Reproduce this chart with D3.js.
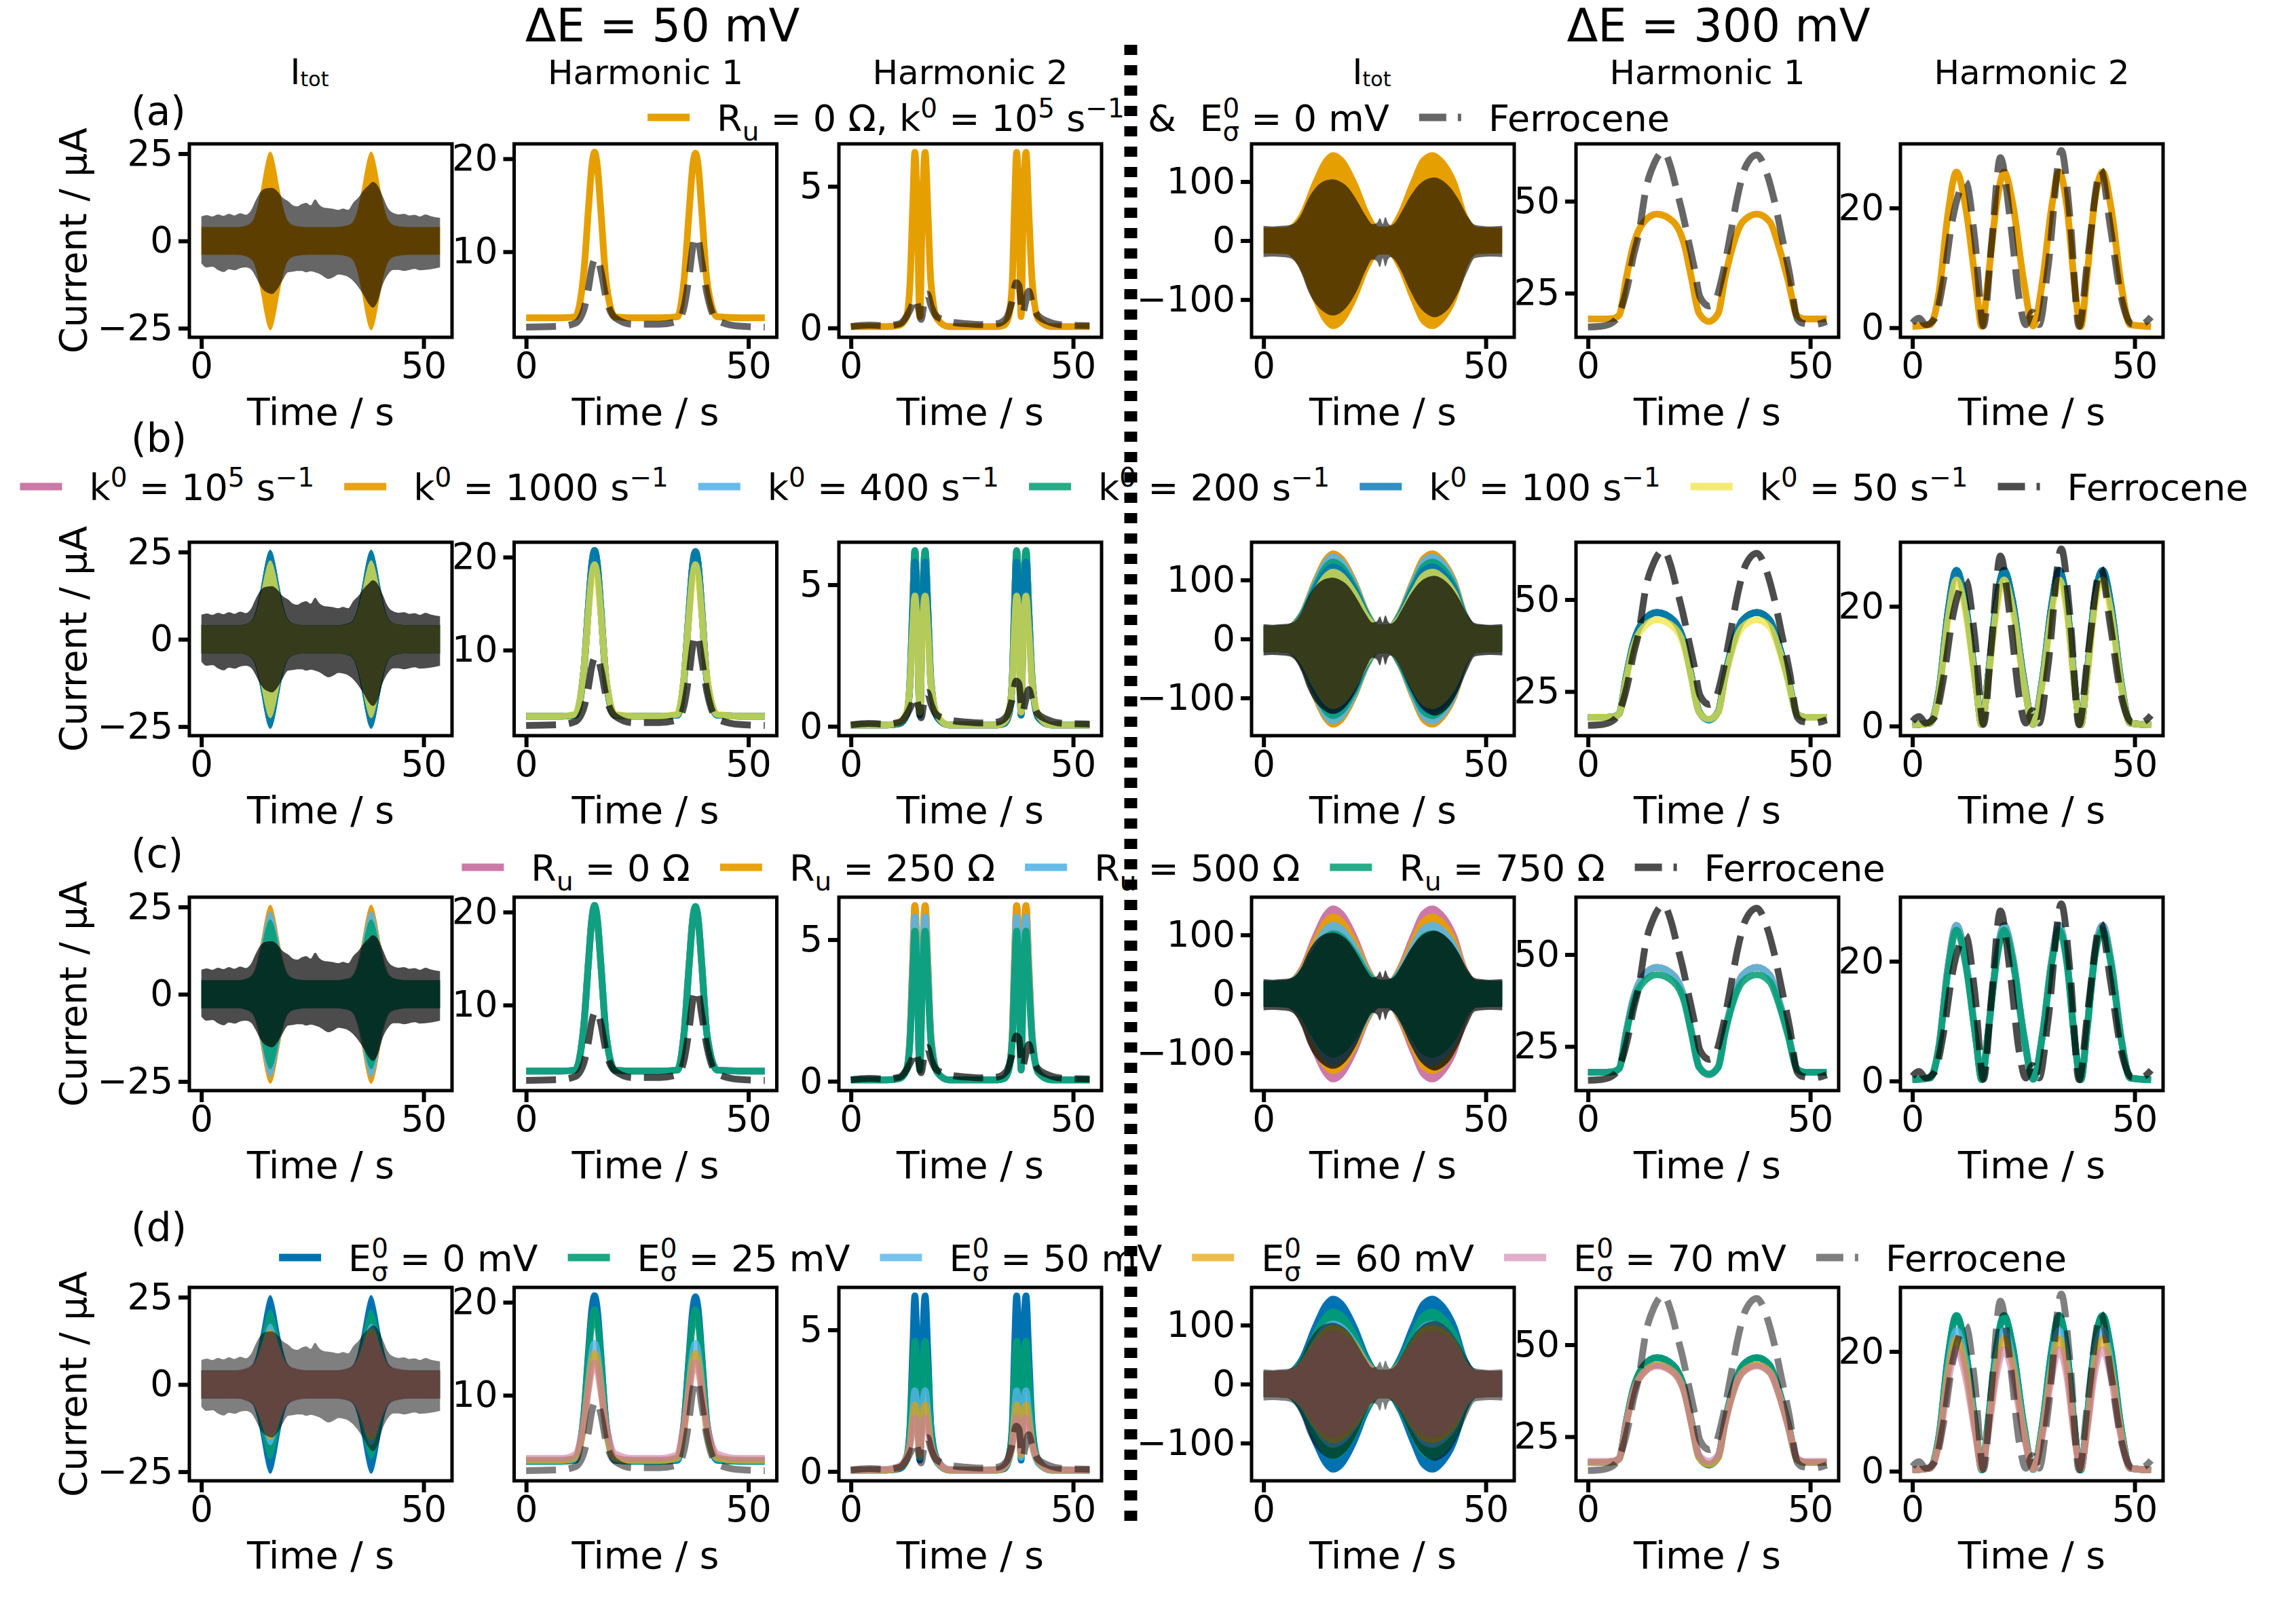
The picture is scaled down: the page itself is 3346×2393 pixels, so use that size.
<!DOCTYPE html>
<html>
<head>
<meta charset="utf-8">
<script src="https://cdn.jsdelivr.net/npm/d3@7"></script>
<style>
  body { margin: 0; background: #fff; }
  text { font-family: 'DejaVu Sans', sans-serif; fill: #000; white-space: pre; }
</style>
</head>
<body>
<svg id="figure" width="3346" height="2393"></svg>
<script>
// ---------- time grids (s) ----------
const time50Itot = [0, 8, 10, 11.5, 12.5, 13.5, 14.3, 14.9, 15.5, 16.1, 16.7, 17.5, 18.5, 19.5, 21, 24, 30, 33, 34.2, 35.2, 36.2, 37, 37.6, 38.2, 38.8, 39.4, 40.2, 41.2, 42.2, 43.7, 47, 53.7]
const time50FcItot = [0, 1.2, 2.5, 3.7, 5, 6.2, 7.5, 8.7, 10, 11.2, 12.2, 13.3, 14.5, 15.9, 17.1, 18.3, 19.5, 20.6, 21.6, 22.6, 23.6, 24.6, 25.6, 26.5, 27.5, 28.6, 29.7, 30.8, 31.9, 33, 34.2, 35.3, 36.5, 37.6, 38.6, 39.7, 40.8, 42, 43.2, 44.4, 45.6, 46.8, 48, 49.2, 50.4, 51.6, 53.7]
const time50H1 = [0, 8, 11, 13, 14, 14.8, 15.4, 16, 16.8, 18, 20, 24, 30, 34, 35.5, 36.7, 37.5, 38.1, 38.7, 39.5, 40.7, 43, 48, 53.7]
const time50H2 = [0, 8, 11, 12.5, 13.3, 13.9, 14.4, 14.9, 15.5, 16.1, 16.7, 17.3, 18, 19.5, 22, 28, 33, 34.5, 35.5, 36.3, 36.8, 37.3, 37.8, 38.3, 38.8, 39.4, 40, 40.8, 42.2, 45, 53.7]
const time50FcH2 = [0, 4, 8, 11, 12.5, 13.5, 14.5, 15.2, 15.8, 16.5, 17.2, 18, 19, 20.5, 23, 26, 30, 33, 35, 36.2, 37.2, 37.8, 38.6, 39.3, 40, 40.8, 42, 44, 48, 53.7]
const time300Itot = [0, 5, 8, 11, 13.5, 15.6, 18, 21, 24, 26, 28, 30, 33, 35.5, 38, 40.5, 43.5, 46, 48, 53.7]
const time300FcItot = [0, 2, 4, 5.5, 7, 8.5, 10, 12, 14, 15.6, 17, 19, 21, 23, 24.5, 25.5, 26.2, 26.8, 27.4, 28, 28.6, 29.5, 31, 33, 35, 37, 38.5, 40, 42, 44, 46, 47.5, 49, 51, 53.7]
const time300H1 = [0, 3, 5.5, 7, 8.6, 10.2, 12.6, 15.5, 19.2, 21.7, 23.3, 25, 27.2, 29.3, 30.8, 32.4, 34.8, 38, 40.9, 43.1, 45, 47.1, 48.8, 51, 53.7]
const time300FcH1 = [0, 3, 5.5, 6.7, 8.9, 10.2, 11.4, 13.1, 14.8, 17, 18.7, 20, 21.3, 22.6, 23.9, 25.2, 27.3, 28.6, 30.3, 32, 33.7, 35.5, 38, 40.2, 41.9, 43.6, 45.4, 47.1, 48.4, 51, 53.7]
const time300H2 = [0, 4, 6, 8, 9.9, 12, 14.3, 15.6, 17, 19, 20.6, 22.5, 25, 27.2, 29.3, 31.3, 33, 34.8, 36.5, 37.9, 39.2, 41, 42.8, 44.7, 47, 49, 53.7]
const time300FcH2 = [0, 1.5, 3, 5, 7, 9, 12, 14, 16, 17.8, 19.8, 22, 24, 25.5, 27, 28.5, 30.5, 33.5, 35.5, 37.5, 39.5, 42.4, 44.5, 47, 49.5, 51.5, 53.7]

// ---------- ΔE = 50 mV, Itot envelope (half height, µA) ----------
const env50Peak256 = [4, 4, 4.4, 5.7, 9.2, 15.5, 21.2, 24.4, 25.6, 24.4, 21.2, 15.5, 9.2, 5.7, 4.4, 4, 4, 4.5, 5.7, 9.2, 15.5, 21.2, 24.4, 25.6, 24.4, 21.2, 15.5, 9.2, 5.7, 4.4, 4, 4]
const env50Peak238 = [4, 4, 4.4, 5.6, 8.8, 14.5, 19.8, 22.7, 23.8, 22.7, 19.8, 14.5, 8.8, 5.6, 4.4, 4, 4, 4.5, 5.6, 8.8, 14.5, 19.8, 22.7, 23.8, 22.7, 19.8, 14.5, 8.8, 5.6, 4.4, 4, 4]
const env50Peak226 = [4, 4, 4.4, 5.5, 8.5, 13.9, 18.8, 21.6, 22.6, 21.6, 18.8, 13.9, 8.5, 5.5, 4.4, 4, 4, 4.4, 5.5, 8.5, 13.9, 18.8, 21.6, 22.6, 21.6, 18.8, 13.9, 8.5, 5.5, 4.4, 4, 4]
const env50Peak215 = [4, 4, 4.4, 5.4, 8.2, 13.3, 18, 20.5, 21.5, 20.5, 18, 13.3, 8.2, 5.4, 4.4, 4, 4, 4.4, 5.4, 8.2, 13.3, 18, 20.5, 21.5, 20.5, 18, 13.3, 8.2, 5.4, 4.4, 4, 4]
const env50Peak174 = [4, 4, 4.3, 5.1, 7.2, 11.1, 14.7, 16.7, 17.4, 16.7, 14.7, 11.1, 7.2, 5.1, 4.3, 4, 4, 4.3, 5.1, 7.2, 11.1, 14.7, 16.7, 17.4, 16.7, 14.7, 11.1, 7.2, 5.1, 4.3, 4, 4]
const env50Peak159 = [4, 4, 4.4, 5.2, 7.3, 10.8, 13.8, 15.3, 15.9, 15.3, 13.8, 10.8, 7.3, 5.2, 4.4, 4, 4, 4.4, 5.2, 7.3, 10.8, 13.8, 15.3, 15.9, 15.3, 13.8, 10.8, 7.3, 5.2, 4.4, 4, 4]
const env50Peak147 = [4, 4.1, 4.7, 5.8, 7.8, 10.9, 13.3, 14.3, 14.7, 14.3, 13.3, 10.9, 7.8, 5.8, 4.7, 4.1, 4.1, 4.7, 5.8, 7.8, 10.9, 13.3, 14.3, 14.7, 14.3, 13.3, 10.9, 7.8, 5.8, 4.7, 4.1, 4]
const fc50Upper = [7.0, 7.4, 7.0, 7.6, 7.2, 7.8, 7.3, 7.9, 7.5, 8.8, 11.5, 14.0, 15.0, 15.2, 14.2, 12.4, 11.4, 10.2, 9.9, 10.6, 10.9, 10.2, 11.9, 10.4, 9.6, 9.4, 9.2, 8.9, 9.3, 8.9, 11.0, 12.4, 14.5, 15.9, 16.9, 15.8, 12.8, 9.4, 8.0, 7.6, 7.8, 7.3, 7.5, 7.0, 7.6, 7.1, 6.6]
const fc50Lower = [-6.4, -7.6, -7.4, -8.3, -8.9, -8.1, -8.4, -7.8, -7.6, -8.2, -10.2, -12.9, -14.6, -15.2, -13.8, -11.2, -9.0, -8.8, -8.6, -8.6, -9.0, -8.7, -9.0, -9.4, -10.2, -10.9, -10.4, -9.6, -9.8, -10.3, -11.5, -13.2, -15.5, -18.0, -19.1, -17.2, -12.5, -9.6, -8.3, -8.3, -8.6, -8.3, -8.0, -8.4, -8.3, -8.1, -7.6]

// ---------- ΔE = 50 mV, harmonic 1 (µA) ----------
const h1at50Peak207 = [2.9, 2.9, 3.0, 7.9, 14.5, 19.3, 20.7, 19.3, 14.5, 6.8, 3.0, 2.9, 2.9, 3.0, 6.8, 14.5, 19.3, 20.6, 19.3, 14.5, 6.8, 3.0, 2.9, 2.9]
const h1at50Peak192 = [2.9, 2.9, 3.1, 8.0, 14.0, 18.0, 19.2, 18.0, 14.0, 7.0, 3.1, 2.9, 2.9, 3.1, 7.0, 14.0, 18.0, 19.2, 18.0, 14.0, 7.0, 3.1, 2.9, 2.9]
const h1at50Peak156 = [3.0, 3.0, 3.2, 7.0, 11.4, 14.6, 15.6, 14.6, 11.4, 6.2, 3.2, 3.0, 3.0, 3.2, 6.2, 11.4, 14.6, 15.6, 14.6, 11.4, 6.2, 3.2, 3.0, 3.0]
const h1at50Peak145 = [3.0, 3.0, 3.3, 6.9, 10.9, 13.6, 14.5, 13.6, 10.9, 6.3, 3.3, 3.0, 3.0, 3.3, 6.3, 10.9, 13.6, 14.5, 13.6, 10.9, 6.3, 3.3, 3.0, 3.0]
const h1at50Peak135 = [3.2, 3.2, 3.6, 7.2, 10.5, 12.8, 13.5, 12.8, 10.5, 6.8, 3.7, 3.2, 3.2, 3.6, 6.8, 10.5, 12.8, 13.5, 12.8, 10.5, 6.8, 3.7, 3.2, 3.2]
const h1at50Fc = [1.9, 2.0, 2.3, 3.8, 6.0, 8.3, 9.2, 9.3, 8.0, 5.0, 2.9, 2.2, 2.2, 2.5, 4.0, 7.5, 10.5, 11.6, 11.3, 9.0, 5.5, 2.6, 2.0, 1.9]

// ---------- ΔE = 50 mV, harmonic 2 (µA) ----------
const h2at50Peak62 = [0.05, 0.05, 0.1, 0.4, 1.6, 4.2, 6.2, 4.3, 0.4, 4.3, 6.2, 4.2, 1.6, 0.3, 0.05, 0.05, 0.05, 0.1, 0.4, 1.6, 4.2, 6.2, 4.3, 0.4, 4.3, 6.2, 4.2, 1.6, 0.3, 0.05, 0.05]
const h2at50Peak58 = [0.05, 0.05, 0.1, 0.4, 1.5, 3.9, 5.8, 4.0, 0.4, 4.0, 5.8, 3.9, 1.5, 0.3, 0.05, 0.05, 0.05, 0.1, 0.4, 1.5, 3.9, 5.8, 4.0, 0.4, 4.0, 5.8, 3.9, 1.5, 0.3, 0.05, 0.05]
const h2at50Peak53 = [0.05, 0.05, 0.1, 0.4, 1.4, 3.6, 5.3, 3.7, 0.4, 3.7, 5.3, 3.6, 1.4, 0.3, 0.05, 0.05, 0.05, 0.1, 0.4, 1.4, 3.6, 5.3, 3.7, 0.4, 3.7, 5.3, 3.6, 1.4, 0.3, 0.05, 0.05]
const h2at50Peak46 = [0.05, 0.05, 0.15, 0.5, 1.5, 3.4, 4.6, 3.5, 0.5, 3.5, 4.6, 3.4, 1.5, 0.4, 0.05, 0.05, 0.05, 0.15, 0.5, 1.5, 3.4, 4.6, 3.5, 0.5, 3.5, 4.6, 3.4, 1.5, 0.4, 0.05, 0.05]
const h2at50Peak29 = [0.05, 0.05, 0.15, 0.4, 1.0, 2.1, 2.85, 2.2, 0.5, 2.2, 2.85, 2.1, 1.0, 0.3, 0.05, 0.05, 0.05, 0.15, 0.4, 1.0, 2.1, 2.85, 2.2, 0.5, 2.2, 2.85, 2.1, 1.0, 0.3, 0.05, 0.05]
const h2at50Peak24 = [0.05, 0.05, 0.15, 0.45, 0.95, 1.8, 2.35, 1.85, 0.6, 1.85, 2.35, 1.8, 0.95, 0.35, 0.05, 0.05, 0.05, 0.15, 0.45, 0.95, 1.8, 2.35, 1.85, 0.6, 1.85, 2.35, 1.8, 0.95, 0.35, 0.05, 0.05]
const h2at50Peak19 = [0.05, 0.08, 0.2, 0.5, 0.95, 1.5, 1.9, 1.6, 0.7, 1.6, 1.9, 1.5, 0.95, 0.4, 0.08, 0.05, 0.08, 0.2, 0.5, 0.95, 1.5, 1.9, 1.6, 0.7, 1.6, 1.9, 1.5, 0.95, 0.4, 0.08, 0.05]
const h2at50Fc = [0.05, 0.1, 0.08, 0.15, 0.4, 0.7, 1.05, 0.7, 0.3, 0.9, 1.2, 0.8, 0.45, 0.3, 0.2, 0.15, 0.12, 0.15, 0.35, 0.9, 1.6, 1.5, 0.5, 0.9, 1.3, 0.9, 0.45, 0.25, 0.1, 0.08]

// ---------- ΔE = 300 mV, Itot envelope (half height, µA) ----------
const env300Peak150 = [22, 23, 45, 100, 138, 150, 140, 100, 45, 24, 24, 45, 100, 140, 150, 138, 100, 42, 23, 22]
const env300Peak145 = [22, 23, 44, 97, 134, 145, 135, 97, 44, 24, 24, 44, 97, 135, 145, 134, 97, 42, 23, 22]
const env300Peak136 = [22, 23, 43, 92, 126, 136, 127, 92, 43, 24, 24, 43, 92, 127, 136, 126, 92, 40, 23, 22]
const env300Peak128 = [22, 23, 41, 87, 118, 128, 120, 87, 41, 24, 24, 41, 87, 120, 128, 118, 87, 39, 23, 22]
const env300Peak122 = [22, 23, 40, 83, 113, 122, 114, 83, 40, 24, 24, 40, 83, 114, 122, 113, 83, 38, 23, 22]
const env300Peak119 = [22, 23, 39, 81, 110, 119, 111, 81, 39, 24, 24, 39, 81, 111, 119, 110, 81, 38, 23, 22]
const env300Peak108 = [22, 23, 37, 74, 100, 108, 101, 74, 37, 24, 24, 37, 74, 101, 108, 100, 74, 36, 23, 22]
const env300Peak100 = [22, 23, 36, 70, 93, 100, 94, 70, 36, 24, 24, 36, 70, 94, 100, 93, 70, 34, 23, 22]
const env300Peak91 = [22, 23, 34, 64, 85, 91, 85, 64, 34, 23, 23, 34, 64, 85, 91, 85, 64, 33, 23, 22]
const fc300Upper = [25, 24, 25, 26, 30, 45, 70, 92, 102, 104, 101, 90, 68, 42, 28, 30, 38, 28, 40, 30, 26, 30, 48, 75, 95, 105, 107, 103, 90, 68, 40, 27, 25, 24, 25]
const fc300Lower = [-28, -27, -28, -29, -35, -55, -85, -110, -123, -127, -124, -110, -85, -50, -32, -35, -45, -30, -44, -32, -28, -33, -52, -85, -112, -126, -130, -126, -112, -85, -50, -30, -28, -27, -28]

// ---------- ΔE = 300 mV, harmonic 1 (µA) ----------
const h1at300Peak465 = [18, 18, 18.1, 19, 29, 38, 44.4, 46.5, 44.4, 38, 29, 19.5, 17.3, 19.5, 29, 37, 44.4, 46.5, 44.4, 37, 28.6, 18.8, 18, 18, 18]
const h1at300Peak445 = [18, 18, 18.1, 19, 28.4, 37, 42.6, 44.5, 42.6, 37, 28.4, 19.3, 17.5, 19.3, 28.4, 36, 42.6, 44.5, 42.6, 36, 28, 18.8, 18, 18, 18]
const h1at300Peak442 = [18.3, 18.3, 18.4, 19.2, 28.5, 37, 42.4, 44.2, 42.4, 37, 28.5, 20, 18.3, 20, 28.5, 36.2, 42.4, 44.2, 42.4, 36.2, 28, 19.2, 18.3, 18.3, 18.3]
const h1at300Fc = [15.8, 16, 17, 18.6, 27, 35, 41, 53.7, 60, 63.5, 59, 52.8, 46.6, 39.3, 32, 24, 21.5, 22.8, 30, 40.6, 51.6, 59.5, 62.6, 57.7, 50.3, 40.6, 30, 18, 16.8, 16.5, 17.3]

// ---------- ΔE = 300 mV, harmonic 2 (µA) ----------
const h2at300Peak260 = [0.2, 0.5, 6, 19, 26, 20, 7, 0.2, 8, 21, 26, 21, 8, 0.3, 8, 20, 26, 20, 7, 0.2, 8, 21, 26, 20, 7, 0.5, 0.2]
const h2at300Peak252 = [0.2, 0.5, 5.8, 18.4, 25.2, 19.4, 6.8, 0.2, 7.8, 20.4, 25.2, 20.4, 7.8, 0.3, 7.8, 19.4, 25.2, 19.4, 6.8, 0.2, 7.8, 20.4, 25.2, 19.4, 6.8, 0.5, 0.2]
const h2at300Peak244 = [0.2, 0.5, 5.6, 17.8, 24.4, 18.8, 6.6, 0.2, 7.5, 19.7, 24.4, 19.7, 7.5, 0.3, 7.5, 18.8, 24.4, 18.8, 6.6, 0.2, 7.5, 19.7, 24.4, 18.8, 6.6, 0.5, 0.2]
const h2at300Peak235 = [0.2, 0.5, 5.4, 17.2, 23.5, 18.1, 6.3, 0.3, 7.2, 19, 23.5, 19, 7.2, 0.3, 7.2, 18.1, 23.5, 18.1, 6.3, 0.3, 7.2, 19, 23.5, 18.1, 6.3, 0.5, 0.2]
const h2at300Peak221 = [0.2, 0.5, 5.1, 16.2, 22.1, 17, 6, 0.4, 6.8, 17.9, 22.1, 17.9, 6.8, 0.4, 6.8, 17, 22.1, 17, 6, 0.4, 6.8, 17.9, 22.1, 17, 6, 0.5, 0.2]
const h2at300Peak203 = [0.2, 0.5, 4.7, 14.8, 20.3, 15.6, 5.5, 0.5, 6.2, 16.4, 20.3, 16.4, 6.2, 0.5, 6.2, 15.6, 20.3, 15.6, 5.5, 0.5, 6.2, 16.4, 20.3, 15.6, 5.5, 0.5, 0.2]
const h2at300Fc = [0.8, 1.6, 0.5, 1.5, 8, 18, 24.3, 15, 0.3, 14, 28.4, 18, 5, 0.5, 2.6, 0.5, 10, 29.6, 18, 0.2, 12, 26.3, 17, 5, 0.6, 0.6, 1.8]

// ---------- labels and categories ----------
const potentialTitles = ['ΔE = 50 mV', 'ΔE = 300 mV']
const columnHeads = ['Itot', 'Harmonic 1', 'Harmonic 2', 'Itot', 'Harmonic 1', 'Harmonic 2']
const rowLetters = ['(a)', '(b)', '(c)', '(d)']
const rateValues = ['10^5', '1000', '400', '200', '100', '50']
const resistanceValues = ['0', '250', '500', '750']
const potentialValues = ['0', '25', '50', '60', '70']
const xTickValues = [0, 50]
const yTickValues = [[-25, 0, 25], [10, 20], [0, 5], [-100, 0, 100], [25, 50], [0, 20]]
const yDomains = [[-27.6, 27.8], [0.8, 21.6], [-0.33, 6.5], [-164, 164], [13, 65.6], [-1.6, 30.7]]

const colours = { pink: '#CC79A7', orange: '#E69F00', sky: '#56B4E9', green: '#009E73', blue: '#0072B2', yellow: '#F0E442' }

// ---------- layout ----------
const colLeft = [279, 757.5, 1236, 1844, 2322, 2800]
const rowTop = [212, 799, 1322, 1897]
const panelW = 387
const panelH = 285

function rateLabel (v) {
  if (v === '10^5') return [['k', ''], ['0', 'sup'], [' = 10', ''], ['5', 'sup'], [' s', ''], ['−1', 'sup']]
  return [['k', ''], ['0', 'sup'], [' = ' + v + ' s', ''], ['−1', 'sup']]
}
function resistanceLabel (v) { return [['R', ''], ['u', 'sub'], [' = ' + v + ' Ω', '']] }
function potentialLabel (v) { return [['E', ''], ['0σ', 'ss'], [' = ' + v + ' mV', '']] }

const panels = [
  { time: time50Itot, fcTime: time50FcItot, fc: [fc50Upper, fc50Lower], envelope: true },
  { time: time50H1, fcTime: time50H1, fc: h1at50Fc },
  { time: time50H2, fcTime: time50FcH2, fc: h2at50Fc },
  { time: time300Itot, fcTime: time300FcItot, fc: [fc300Upper, fc300Lower], envelope: true },
  { time: time300H1, fcTime: time300FcH1, fc: h1at300Fc },
  { time: time300H2, fcTime: time300FcH2, fc: h2at300Fc }
]

const fast = [env50Peak256, h1at50Peak207, h2at50Peak62, env300Peak150, h1at300Peak465, h2at300Peak260]

const rows = [
  {
    fcAlpha: 0.6, legendCentre: 1707, legendBase: 193, letterBase: 184,
    models: [
      { colour: colours.orange, alpha: 1, series: fast,
        label: [['R', ''], ['u', 'sub'], [' = 0 Ω, k', ''], ['0', 'sup'], [' = 10', ''], ['5', 'sup'], [' s', ''], ['−1', 'sup'], [', &  E', ''], ['0σ', 'ss'], [' = 0 mV', '']] }
    ]
  },
  {
    fcAlpha: 0.7, legendCentre: 1671, legendBase: 737, letterBase: 666,
    models: [
      { colour: colours.pink, alpha: 1, label: rateLabel(rateValues[0]), series: fast },
      { colour: colours.orange, alpha: 0.95, label: rateLabel(rateValues[1]), series: fast },
      { colour: colours.sky, alpha: 0.9, label: rateLabel(rateValues[2]), series: [env50Peak256, h1at50Peak207, h2at50Peak62, env300Peak145, h1at300Peak465, h2at300Peak260] },
      { colour: colours.green, alpha: 0.85, label: rateLabel(rateValues[3]), series: [env50Peak256, h1at50Peak207, h2at50Peak62, env300Peak136, h1at300Peak465, h2at300Peak260] },
      { colour: colours.blue, alpha: 0.8, label: rateLabel(rateValues[4]), series: [env50Peak256, h1at50Peak207, h2at50Peak58, env300Peak128, h1at300Peak465, h2at300Peak260] },
      { colour: colours.yellow, alpha: 0.75, label: rateLabel(rateValues[5]), series: [env50Peak226, h1at50Peak192, h2at50Peak46, env300Peak119, h1at300Peak445, h2at300Peak244] }
    ]
  },
  {
    fcAlpha: 0.7, legendCentre: 1729, legendBase: 1298, letterBase: 1278,
    models: [
      { colour: colours.pink, alpha: 1, label: resistanceLabel(resistanceValues[0]), series: fast },
      { colour: colours.orange, alpha: 0.95, label: resistanceLabel(resistanceValues[1]), series: [env50Peak256, h1at50Peak207, h2at50Peak62, env300Peak136, h1at300Peak465, h2at300Peak260] },
      { colour: colours.sky, alpha: 0.9, label: resistanceLabel(resistanceValues[2]), series: [env50Peak238, h1at50Peak207, h2at50Peak58, env300Peak122, h1at300Peak465, h2at300Peak260] },
      { colour: colours.green, alpha: 0.85, label: resistanceLabel(resistanceValues[3]), series: [env50Peak215, h1at50Peak207, h2at50Peak53, env300Peak108, h1at300Peak445, h2at300Peak252] }
    ]
  },
  {
    fcAlpha: 0.5, legendCentre: 1728, legendBase: 1873, letterBase: 1829,
    models: [
      { colour: colours.blue, alpha: 1, label: potentialLabel(potentialValues[0]), series: fast },
      { colour: colours.green, alpha: 0.9, label: potentialLabel(potentialValues[1]), series: [env50Peak215, h1at50Peak192, h2at50Peak46, env300Peak128, h1at300Peak465, h2at300Peak260] },
      { colour: colours.sky, alpha: 0.8, label: potentialLabel(potentialValues[2]), series: [env50Peak174, h1at50Peak156, h2at50Peak29, env300Peak108, h1at300Peak445, h2at300Peak235] },
      { colour: colours.orange, alpha: 0.7, label: potentialLabel(potentialValues[3]), series: [env50Peak159, h1at50Peak145, h2at50Peak24, env300Peak100, h1at300Peak445, h2at300Peak221] },
      { colour: colours.pink, alpha: 0.6, label: potentialLabel(potentialValues[4]), series: [env50Peak147, h1at50Peak135, h2at50Peak19, env300Peak91, h1at300Peak442, h2at300Peak203] }
    ]
  }
]

const svg = d3.select('#figure')
svg.append('rect').attr('width', 3346).attr('height', 2393).attr('fill', '#fff')

const tickFormat = d3.format('~g')

/**
 * Writes mathtext-like parts (super/subscripts) into a text element.
 */
function rich (textSel, parts, size) {
  const small = size * 0.72
  const off = { '': 0, sup: -0.37 * size, sub: 0.26 * size }
  let cur = 0
  for (const [s, kind] of parts) {
    if (kind === 'ss') {
      textSel.append('tspan').attr('font-size', small).attr('dy', off.sup - cur).text('0')
      textSel.append('tspan').attr('font-size', small).attr('dx', -0.636 * small).attr('dy', off.sub - off.sup).text('σ')
      cur = off.sub
    } else {
      textSel.append('tspan').attr('font-size', kind ? small : size).attr('dy', off[kind] - cur).text(s)
      cur = off[kind]
    }
  }
}

function drawLegend (row) {
  const g = svg.append('g')
  const base = row.legendBase
  const items = row.models.map(m => ({ colour: m.colour, alpha: m.alpha, parts: m.label, dashed: false }))
    .concat([{ colour: '#000', alpha: row.fcAlpha, parts: [['Ferrocene', '']], dashed: true }])
  let cursor = 0
  items.forEach(item => {
    g.append('line')
      .attr('x1', cursor).attr('x2', cursor + 62)
      .attr('y1', base - 20).attr('y2', base - 20)
      .attr('stroke', item.colour).attr('stroke-opacity', item.alpha)
      .attr('stroke-width', 11)
      .attr('stroke-dasharray', item.dashed ? '40,17' : null)
    const t = g.append('text').attr('x', cursor + 102).attr('y', base).attr('font-size', 54)
    rich(t, item.parts, 54)
    cursor += 102 + t.node().getBBox().width + 44
  })
  const width = cursor - 44
  g.attr('transform', 'translate(' + (row.legendCentre - width / 2) + ',0)')
}

rows.forEach((row, r) => {
  const top = rowTop[r]

  panels.forEach((panel, c) => {
    const left = colLeft[c]
    const x = d3.scaleLinear().domain([-2.7, 56.4]).range([left, left + panelW])
    const y = d3.scaleLinear().domain(yDomains[c]).range([top + panelH, top])

    const clipId = 'clip-' + r + '-' + c
    svg.append('clipPath').attr('id', clipId)
      .append('rect').attr('x', left).attr('y', top).attr('width', panelW).attr('height', panelH)
    const plot = svg.append('g').attr('clip-path', 'url(#' + clipId + ')')

    if (panel.envelope) {
      const area = d3.area()
        .x(d => x(d[0])).y0(d => y(-d[1])).y1(d => y(d[1]))
        .curve(d3.curveMonotoneX)
      row.models.forEach(m => {
        plot.append('path')
          .datum(d3.zip(panel.time, m.series[c]))
          .attr('d', area)
          .attr('fill', m.colour).attr('fill-opacity', m.alpha)
      })
      const fcArea = d3.area()
        .x(d => x(d[0])).y0(d => y(d[2])).y1(d => y(d[1]))
        .curve(d3.curveMonotoneX)
      plot.append('path')
        .datum(d3.zip(panel.fcTime, panel.fc[0], panel.fc[1]))
        .attr('d', fcArea)
        .attr('fill', '#000').attr('fill-opacity', row.fcAlpha)
    } else {
      const line = d3.line().x(d => x(d[0])).y(d => y(d[1])).curve(d3.curveMonotoneX)
      row.models.forEach(m => {
        plot.append('path')
          .datum(d3.zip(panel.time, m.series[c]))
          .attr('d', line)
          .attr('fill', 'none').attr('stroke', m.colour).attr('stroke-opacity', m.alpha)
          .attr('stroke-width', 10).attr('stroke-linejoin', 'round')
      })
      plot.append('path')
        .datum(d3.zip(panel.fcTime, panel.fc))
        .attr('d', line)
        .attr('fill', 'none').attr('stroke', '#000').attr('stroke-opacity', row.fcAlpha)
        .attr('stroke-width', 10).attr('stroke-dasharray', '44,19')
    }

    // axes
    const gx = svg.append('g').attr('transform', 'translate(0,' + (top + panelH) + ')')
      .call(d3.axisBottom(x).tickValues(xTickValues).tickFormat(tickFormat).tickSize(17).tickPadding(5).tickSizeOuter(0))
    gx.attr('font-size', 53)
    gx.select('.domain').remove()
    gx.selectAll('.tick line').attr('stroke-width', 6)

    const gy = svg.append('g').attr('transform', 'translate(' + left + ',0)')
      .call(d3.axisLeft(y).tickValues(yTickValues[c]).tickFormat(tickFormat).tickSize(16).tickPadding(8).tickSizeOuter(0))
    gy.attr('font-size', 53)
    gy.select('.domain').remove()
    gy.selectAll('.tick line').attr('stroke-width', 6)

    svg.append('rect')
      .attr('x', left).attr('y', top).attr('width', panelW).attr('height', panelH)
      .attr('fill', 'none').attr('stroke', '#000').attr('stroke-width', 5)

    svg.append('text')
      .attr('x', left + panelW / 2).attr('y', top + panelH + 129)
      .attr('text-anchor', 'middle').attr('font-size', 55)
      .text('Time / s')
  })

  svg.append('text')
    .attr('transform', 'translate(127,' + (top + panelH / 2) + ') rotate(-90)')
    .attr('text-anchor', 'middle').attr('font-size', 55)
    .text('Current / μA')

  svg.append('text').attr('x', 193).attr('y', row.letterBase).attr('font-size', 58).text(rowLetters[r])

  drawLegend(row)
})

// column heads
columnHeads.forEach((head, c) => {
  const centre = colLeft[c] + panelW / 2
  if (head === 'Itot') {
    const t = svg.append('text').attr('x', centre - 45).attr('y', 124).attr('font-size', 51)
    t.append('tspan').text('I')
    t.append('tspan').attr('font-size', 30).attr('dy', 3).text('tot')
  } else {
    svg.append('text').attr('x', centre).attr('y', 124).attr('text-anchor', 'middle').attr('font-size', 50).text(head)
  }
})

// titles
svg.append('text').attr('x', 976).attr('y', 61).attr('text-anchor', 'middle').attr('font-size', 67).text(potentialTitles[0])
svg.append('text').attr('x', 2532).attr('y', 61).attr('text-anchor', 'middle').attr('font-size', 67).text(potentialTitles[1])

// dotted separator
svg.append('line')
  .attr('x1', 1666).attr('x2', 1666).attr('y1', 66).attr('y2', 2250)
  .attr('stroke', '#000').attr('stroke-width', 19).attr('stroke-dasharray', '15,15')
</script>
</body>
</html>
